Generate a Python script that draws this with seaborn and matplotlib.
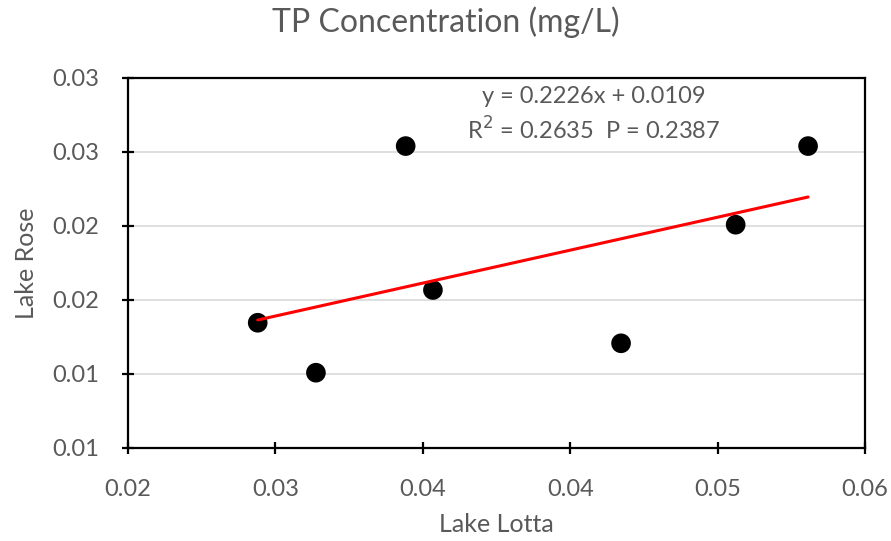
import numpy as np
import pandas as pd
import matplotlib
matplotlib.use("Agg")
import matplotlib.pyplot as plt
import seaborn as sns

# TP concentrations (mg/L)
lake_lotta = [0.02704, 0.03020, 0.03507, 0.03655, 0.04676, 0.05298, 0.05691]
lake_rose = [0.01677, 0.01407, 0.02632, 0.01854, 0.01566, 0.02207, 0.02632]

# Linear trend reported on the chart
slope = 0.2226
intercept = 0.0109
r_squared = 0.2635
p_value = 0.2387

x_ticks = [0.020, 0.028, 0.036, 0.044, 0.052, 0.060]
x_tick_labels = ["0.02", "0.03", "0.04", "0.04", "0.05", "0.06"]
y_ticks = [0.010, 0.014, 0.018, 0.022, 0.026, 0.030]
y_tick_labels = ["0.01", "0.01", "0.02", "0.02", "0.03", "0.03"]

sns.set_theme(style="white")
plt.rcParams["font.family"] = ["Lato", "DejaVu Sans"]
text_color = "#595959"

df = pd.DataFrame({"Lake Lotta": lake_lotta, "Lake Rose": lake_rose})
x_fit = [min(lake_lotta), max(lake_lotta)]
fit = pd.DataFrame({"x": x_fit, "y": [slope * v + intercept for v in x_fit]})

fig = plt.figure(figsize=(8.91, 5.41), dpi=100)
ax = fig.add_axes([128 / 891, 1 - 448 / 541, (865 - 128) / 891, (448 - 78) / 541])

for yv in y_ticks:
    ax.axhline(yv, color="#d9d9d9", lw=1.2, zorder=0)

sns.scatterplot(data=df, x="Lake Lotta", y="Lake Rose", ax=ax, color="black",
                s=200, edgecolor="none", zorder=3)
sns.lineplot(data=fit, x="x", y="y", ax=ax, color="#ff0000", lw=2.2, zorder=4)

ax.set_xlim(0.020, 0.060)
ax.set_ylim(0.010, 0.030)
ax.set_xticks(x_ticks)
ax.set_yticks(y_ticks)
ax.set_xticklabels(x_tick_labels)
ax.set_yticklabels(y_tick_labels)

for side in ["left", "right", "top", "bottom"]:
    ax.spines[side].set_visible(True)
    ax.spines[side].set_color("black")
    ax.spines[side].set_linewidth(1.6)

ax.tick_params(axis="both", which="major", direction="inout", length=8, width=1.6,
               color="black", labelsize=17, labelcolor=text_color)
ax.tick_params(axis="x", bottom=True, top=False, pad=18)
ax.tick_params(axis="y", left=True, right=False, pad=17)

ax.set_xlabel("Lake Lotta", fontsize=18, color=text_color, labelpad=10)
ax.set_ylabel("Lake Rose", fontsize=18, color=text_color, labelpad=10)
fig.text(0.5, 1 - 22 / 541, "TP Concentration (mg/L)", fontsize=23, color=text_color,
         ha="center", va="center")

ax.text(0.632, 0.949, f"y = {slope:.4f}x + {intercept:.4f}", transform=ax.transAxes,
        ha="center", va="center", fontsize=17, color=text_color)
ax.text(0.632, 0.859, f"R$^2$ = {r_squared:.4f}  P = {p_value:.4f}", transform=ax.transAxes,
        ha="center", va="center", fontsize=17, color=text_color)

fig.savefig("out.png", dpi=100)
